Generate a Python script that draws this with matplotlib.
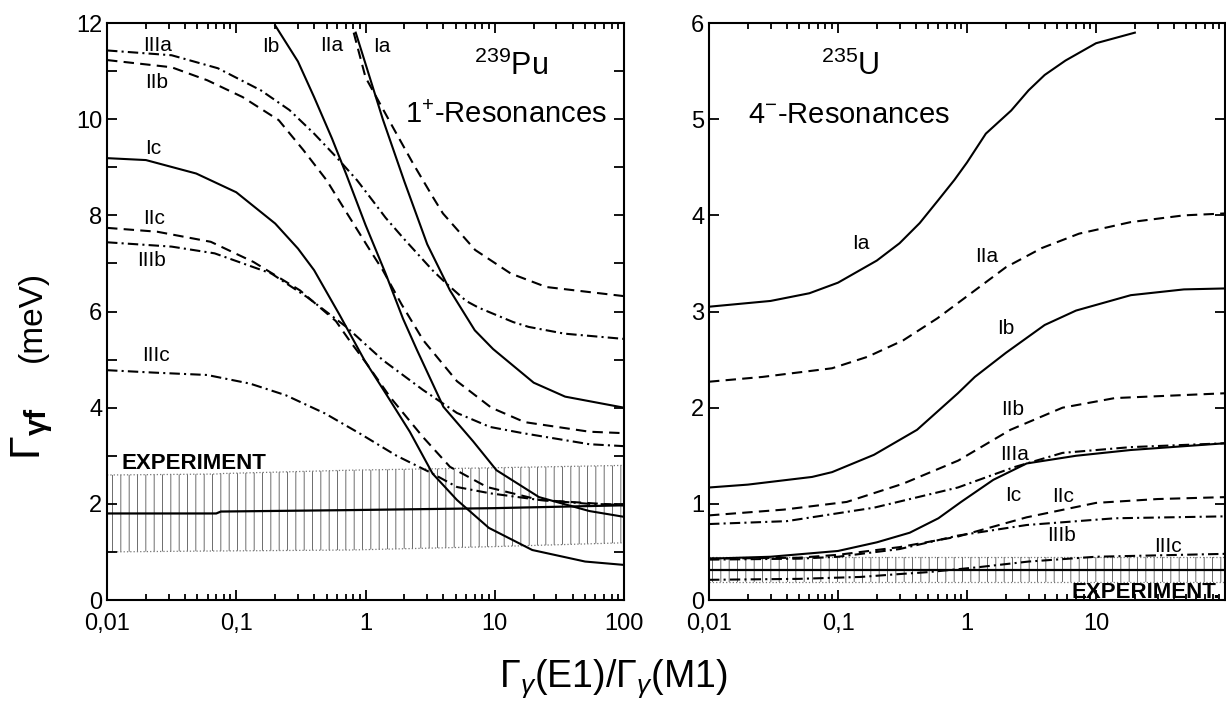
import numpy as np
import matplotlib
matplotlib.use('Agg')
import matplotlib.pyplot as plt
from matplotlib.ticker import (FixedLocator, FixedFormatter, LogLocator,
                               NullFormatter, MultipleLocator)

plt.rcParams['font.family'] = ['Liberation Sans', 'DejaVu Sans']
plt.rcParams['mathtext.fontset'] = 'custom'
plt.rcParams['mathtext.rm'] = 'Liberation Sans'
plt.rcParams['mathtext.it'] = 'Liberation Sans:italic'
plt.rcParams['mathtext.bf'] = 'Liberation Sans:bold'
plt.rcParams['hatch.linewidth'] = 0.6

# 239Pu, 1+ resonances
pu_Ia_x = [0.84, 1.0, 1.36, 2.0, 3.0, 4.5, 7.0, 9.7, 20, 35, 100]
pu_Ia_y = [11.8, 11.15, 10.0, 8.7, 7.4, 6.44, 5.61, 5.22, 4.52, 4.23, 4.0]
pu_Ib_x = [0.2, 0.3, 0.4, 0.55, 0.71, 1.0, 1.43, 1.95, 2.5, 4.0, 6.8, 10.3, 22, 54, 100]
pu_Ib_y = [11.95, 11.2, 10.46, 9.6, 8.85, 7.8, 6.79, 5.85, 5.2, 4.02, 3.3, 2.7, 2.14, 1.85, 1.73]
pu_Ic_x = [0.01, 0.02, 0.049, 0.1, 0.2, 0.3, 0.4, 0.63, 0.98, 1.43, 2.2, 3.3, 5.1, 9.0, 19.5, 50, 100]
pu_Ic_y = [9.19, 9.15, 8.87, 8.48, 7.83, 7.31, 6.86, 5.93, 4.99, 4.3, 3.5, 2.63, 2.08, 1.5, 1.04, 0.8, 0.73]
pu_IIa_x = [0.81, 1.0, 1.63, 2.33, 3.32, 3.97, 7.05, 13.3, 25, 100]
pu_IIa_y = [11.8, 10.87, 9.83, 9.08, 8.38, 8.04, 7.28, 6.79, 6.51, 6.32]
pu_IIb_x = [0.01, 0.0316, 0.0596, 0.112, 0.213, 0.33, 0.5, 0.72, 1.08, 1.36, 1.9, 2.8, 5.1, 9.4, 17, 54, 100]
pu_IIb_y = [11.23, 11.08, 10.81, 10.46, 9.98, 9.36, 8.73, 8.04, 7.28, 6.86, 6.15, 5.4, 4.55, 4.0, 3.7, 3.5, 3.47]
pu_IIc_x = [0.01, 0.0244, 0.0635, 0.136, 0.311, 0.59, 0.75, 1.03, 1.55, 2.78, 4.5, 8.7, 22.3, 100]
pu_IIc_y = [7.74, 7.66, 7.45, 7.03, 6.44, 5.8, 5.4, 4.9, 4.22, 3.39, 2.77, 2.35, 2.08, 1.97]
pu_IIIa_x = [0.01, 0.0316, 0.072, 0.155, 0.258, 0.4, 0.6, 0.86, 1.14, 1.43, 2.0, 3.32, 4.23, 6.0, 7.5, 13.9, 18.3, 34.5, 100]
pu_IIIa_y = [11.43, 11.33, 11.06, 10.6, 10.19, 9.7, 9.2, 8.73, 8.3, 7.95, 7.5, 6.85, 6.58, 6.22, 6.08, 5.78, 5.68, 5.54, 5.43]
pu_IIIb_x = [0.01, 0.0316, 0.068, 0.187, 0.353, 0.71, 1.36, 2.78, 5.1, 9.16, 16.5, 54, 100]
pu_IIIb_y = [7.44, 7.35, 7.21, 6.79, 6.3, 5.68, 4.99, 4.37, 3.89, 3.6, 3.47, 3.24, 3.2]
pu_IIIc_x = [0.01, 0.0229, 0.0596, 0.128, 0.241, 0.486, 0.92, 1.74, 3.3, 5.1, 9.16, 22.3, 54, 100]
pu_IIIc_y = [4.78, 4.73, 4.68, 4.5, 4.26, 3.88, 3.45, 3.0, 2.63, 2.35, 2.22, 2.08, 2.0, 1.98]

pu_exp_x = [0.01, 0.07, 0.076, 0.76, 9.7, 100]
pu_exp_mid = [1.8, 1.8, 1.84, 1.87, 1.91, 1.97]
pu_exp_hi = [2.6, 2.62, 2.63, 2.7, 2.75, 2.8]
pu_exp_lo = [1.0, 1.02, 1.02, 1.04, 1.11, 1.19]

# 235U, 4- resonances
u_Ia_x = [0.01, 0.03, 0.06, 0.1, 0.2, 0.3, 0.43, 0.6, 0.8, 1.0, 1.4, 2.2, 3, 4, 5.8, 10, 20]
u_Ia_y = [3.05, 3.11, 3.19, 3.30, 3.53, 3.71, 3.92, 4.16, 4.37, 4.55, 4.85, 5.09, 5.30, 5.46, 5.61, 5.79, 5.90]
u_Ib_x = [0.01, 0.02, 0.063, 0.09, 0.19, 0.41, 0.85, 1.15, 2.0, 4.0, 7.0, 18.6, 48, 100]
u_Ib_y = [1.17, 1.20, 1.28, 1.33, 1.51, 1.77, 2.15, 2.32, 2.57, 2.86, 3.01, 3.17, 3.23, 3.24]
u_Ic_x = [0.01, 0.03, 0.1, 0.2, 0.36, 0.6, 0.9, 1.6, 2.9, 7, 18.6, 100]
u_Ic_y = [0.43, 0.45, 0.51, 0.60, 0.70, 0.85, 1.02, 1.25, 1.42, 1.50, 1.56, 1.63]
u_IIa_x = [0.01, 0.026, 0.09, 0.17, 0.32, 0.59, 1.1, 2.0, 3.8, 7.4, 18.6, 48, 100]
u_IIa_y = [2.27, 2.32, 2.41, 2.53, 2.70, 2.93, 3.20, 3.46, 3.66, 3.81, 3.93, 4.0, 4.02]
u_IIb_x = [0.01, 0.038, 0.117, 0.32, 0.855, 2.17, 5.5, 14, 100]
u_IIb_y = [0.88, 0.94, 1.02, 1.21, 1.45, 1.77, 2.0, 2.10, 2.15]
u_IIc_x = [0.01, 0.05, 0.1, 0.3, 0.85, 2.9, 10, 30, 100]
u_IIc_y = [0.43, 0.44, 0.47, 0.55, 0.66, 0.86, 1.01, 1.05, 1.07]
u_IIIa_x = [0.01, 0.04, 0.19, 0.85, 2.3, 5.5, 18.6, 100]
u_IIIa_y = [0.79, 0.82, 0.96, 1.17, 1.38, 1.53, 1.59, 1.63]
u_IIIb_x = [0.01, 0.05, 0.1, 0.3, 0.85, 2.9, 14, 100]
u_IIIb_y = [0.42, 0.43, 0.45, 0.53, 0.67, 0.78, 0.85, 0.87]
u_IIIc_x = [0.01, 0.05, 0.15, 0.3, 0.5, 1.2, 3, 10, 100]
u_IIIc_y = [0.21, 0.22, 0.24, 0.27, 0.29, 0.34, 0.40, 0.45, 0.48]

u_exp_x = [0.01, 1, 100]
u_exp_mid = [0.31, 0.31, 0.31]
u_exp_hi = [0.45, 0.45, 0.45]
u_exp_lo = [0.19, 0.19, 0.19]

x_ticks = [0.01, 0.1, 1, 10, 100]
pu_xtick_labels = ['0,01', '0,1', '1', '10', '100']
u_xtick_labels = ['0,01', '0,1', '1', '10', '']

SOLID = '-'
DASH = (0, (5, 3))
DASHDOT = (0, (5, 2, 1, 2))

pu_curves = [
    (pu_Ia_x, pu_Ia_y, SOLID, 'Ia', 1.34, 11.52),
    (pu_Ib_x, pu_Ib_y, SOLID, 'Ib', 0.184, 11.52),
    (pu_Ic_x, pu_Ic_y, SOLID, 'Ic', 0.0229, 9.40),
    (pu_IIa_x, pu_IIa_y, DASH, 'IIa', 0.543, 11.54),
    (pu_IIb_x, pu_IIb_y, DASH, 'IIb', 0.0241, 10.77),
    (pu_IIc_x, pu_IIc_y, DASH, 'IIc', 0.0233, 7.94),
    (pu_IIIa_x, pu_IIIa_y, DASHDOT, 'IIIa', 0.0248, 11.54),
    (pu_IIIb_x, pu_IIIb_y, DASHDOT, 'IIIb', 0.0222, 7.07),
    (pu_IIIc_x, pu_IIIc_y, DASHDOT, 'IIIc', 0.0237, 5.09),
]

u_curves = [
    (u_Ia_x, u_Ia_y, SOLID, 'Ia', 0.15, 3.71),
    (u_Ib_x, u_Ib_y, SOLID, 'Ib', 2.0, 2.82),
    (u_Ic_x, u_Ic_y, SOLID, 'Ic', 2.3, 1.09),
    (u_IIa_x, u_IIa_y, DASH, 'IIa', 1.42, 3.57),
    (u_IIb_x, u_IIb_y, DASH, 'IIb', 2.25, 1.98),
    (u_IIc_x, u_IIc_y, DASH, 'IIc', 5.6, 1.08),
    (u_IIIa_x, u_IIIa_y, DASHDOT, 'IIIa', 2.33, 1.51),
    (u_IIIb_x, u_IIIb_y, DASHDOT, 'IIIb', 5.4, 0.67),
    (u_IIIc_x, u_IIIc_y, DASHDOT, 'IIIc', 36, 0.56),
]


def draw_experiment(ax, x, lo, mid, hi):
    # hatched band of the measured value with its central line
    ax.fill_between(x, lo, hi, facecolor='none', edgecolor='#555555',
                    hatch='||', linewidth=0, zorder=1)
    ax.plot(x, hi, color='#777777', lw=0.9, ls=':', zorder=1)
    ax.plot(x, lo, color='#777777', lw=0.9, ls=':', zorder=1)
    ax.plot(x, mid, color='black', lw=1.6, zorder=2)


def draw_curves(ax, curves):
    for x, y, ls, name, lx, ly in curves:
        ax.plot(x, y, color='black', lw=1.5, linestyle=ls, zorder=3)
        ax.text(lx, ly, name, fontsize=15, ha='center', va='center')


def style_axes(ax, ymax, ystep, xlabels):
    ax.set_xscale('log')
    ax.set_xlim(0.01, 100)
    ax.set_ylim(0, ymax)
    ax.xaxis.set_major_locator(FixedLocator(x_ticks))
    ax.xaxis.set_major_formatter(FixedFormatter(xlabels))
    ax.xaxis.set_minor_locator(LogLocator(base=10, subs=np.arange(2, 10)))
    ax.xaxis.set_minor_formatter(NullFormatter())
    ax.yaxis.set_major_locator(MultipleLocator(ystep))
    ax.tick_params(which='both', direction='in', top=True, right=True,
                   width=1.3, labelsize=17)
    ax.tick_params(which='major', length=7)
    ax.tick_params(axis='x', which='minor', length=4)
    ax.tick_params(axis='x', which='major', pad=9)
    for s in ax.spines.values():
        s.set_linewidth(1.5)


fig = plt.figure(figsize=(12.26, 7.11), dpi=100)
ax1 = fig.add_axes([0.0873, 0.1561, 0.4217, 0.8115])
ax2 = fig.add_axes([0.5783, 0.1561, 0.4209, 0.8115])

draw_experiment(ax1, pu_exp_x, pu_exp_lo, pu_exp_mid, pu_exp_hi)
draw_curves(ax1, pu_curves)
style_axes(ax1, 12, 2, pu_xtick_labels)
# unlabeled ticks at the odd values on the Pu panel
ax1.yaxis.set_minor_locator(MultipleLocator(1))
ax1.tick_params(axis='y', which='minor', length=7)
ax1.text(0.0129, 2.72, 'EXPERIMENT', fontsize=16, fontweight='bold',
         ha='left', va='baseline')
ax1.text(0.781, 0.925, r'$^{239}$Pu', fontsize=22, transform=ax1.transAxes,
         ha='center', va='center')
ax1.text(0.967, 0.84, r'1$^{+}$-Resonances', fontsize=21,
         transform=ax1.transAxes, ha='right', va='center')

draw_experiment(ax2, u_exp_x, u_exp_lo, u_exp_mid, u_exp_hi)
draw_curves(ax2, u_curves)
style_axes(ax2, 6, 1, u_xtick_labels)
ax2.yaxis.set_minor_locator(FixedLocator([]))
ax2.text(6.4, 0.02, 'EXPERIMENT.', fontsize=16, fontweight='bold',
         ha='left', va='baseline')
ax2.text(0.273, 0.925, r'$^{235}$U', fontsize=22, transform=ax2.transAxes,
         ha='center', va='center')
ax2.text(0.076, 0.84, r'4$^{-}$-Resonances', fontsize=21,
         transform=ax2.transAxes, ha='left', va='center')

# y title: large gamma symbol, smaller unit
fig.text(0.026, 0.39, r'$\Gamma_{\mathbf{\gamma f}}$', fontsize=31,
         rotation=90, ha='center', va='center')
fig.text(0.026, 0.555, '(meV)', fontsize=24,
         rotation=90, ha='center', va='center')
fig.text(0.5, 0.045, r'$\Gamma_{\gamma}$(E1)/$\Gamma_{\gamma}$(M1)', fontsize=27,
         ha='center', va='center')

fig.savefig('out.png', dpi=100)
